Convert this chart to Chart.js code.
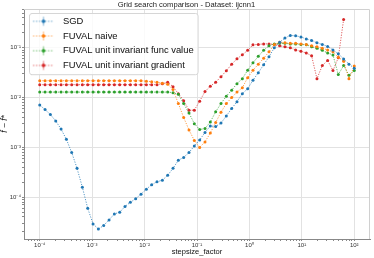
<!DOCTYPE html>
<html><head><meta charset="utf-8">
<script src="https://cdn.jsdelivr.net/npm/chart.js@4.4.1/dist/chart.umd.min.js"></script>
<style>html,body{margin:0;padding:0;background:#fff}canvas{display:block}</style>
</head><body>
<canvas id="c" width="374" height="258" style="width:374px;height:258px"></canvas>
<script>
const chartTitle = 'Grid search comparison - Dataset: ijcnn1';
const xLabel = 'stepsize_factor';
const yLabel = 'f \u2212 f*';
const seriesNames = ['SGD', 'FUVAL naive', 'FUVAL unit invariant func value', 'FUVAL unit invariant gradient'];
const seriesColors = ['#1f77b4', '#ff7f0e', '#2ca02c', '#d62728'];

// stepsize grid (x values)
const stepsizes = [1.000e-4,1.264e-4,1.597e-4,2.019e-4,2.551e-4,3.224e-4,4.075e-4,5.150e-4,6.508e-4,8.225e-4,
  1.040e-3,1.314e-3,1.661e-3,2.099e-3,2.653e-3,3.353e-3,4.237e-3,5.355e-3,6.767e-3,8.553e-3,
  1.081e-2,1.366e-2,1.727e-2,2.183e-2,2.758e-2,3.486e-2,4.406e-2,5.568e-2,7.037e-2,8.893e-2,
  0.1124,0.1421,0.1796,0.2270,0.2868,0.3625,0.4582,0.5791,0.7318,0.9249,
  1.169,1.477,1.867,2.360,2.982,3.769,4.764,6.021,7.609,9.618,
  12.15,15.36,19.42,24.54,31.02,39.20,49.54,62.61,79.13,100.0];

const sgd = [7.08e-3,5.75e-3,4.57e-3,3.39e-3,2.34e-3,1.45e-3,7.9e-4,3.8e-4,1.58e-4,6.0e-5,
  2.9e-5,2.3e-5,2.7e-5,3.5e-5,4.6e-5,5.0e-5,6.5e-5,7.9e-5,9.3e-5,1.15e-4,
  1.45e-4,1.78e-4,2.04e-4,2.19e-4,2.75e-4,3.8e-4,5.5e-4,6.3e-4,7.9e-4,1.07e-3,
  1.41e-3,2.0e-3,2.69e-3,2.63e-3,3.09e-3,4.27e-3,6.03e-3,8.3e-3,1.2e-2,1.51e-2,
  2.24e-2,3.16e-2,4.57e-2,6.6e-2,0.100,0.129,0.158,0.178,0.174,0.166,
  0.151,0.141,0.126,0.117,0.107,0.091,0.076,0.060,0.047,0.039];

const naive = [0.0219,0.0219,0.0219,0.0219,0.0219,0.0219,0.0219,0.0219,0.0219,0.0219,
  0.0219,0.0219,0.0219,0.0219,0.0219,0.0219,0.0219,0.0219,0.0219,0.0219,
  0.0214,0.0209,0.0204,0.0195,0.0186,0.0145,7.6e-3,3.98e-3,2.24e-3,1.38e-3,
  1.0e-3,1.29e-3,1.95e-3,3.16e-3,5.1e-3,7.6e-3,0.0100,0.0129,0.0158,0.0251,
  0.0355,0.0468,0.0617,0.0832,0.117,0.129,0.126,0.123,0.123,0.120,
  0.117,0.110,0.105,0.098,0.091,0.083,0.065,0.054,0.024,0.043];

const uiFunc = [0.0129,0.0129,0.0129,0.0129,0.0129,0.0129,0.0129,0.0129,0.0129,0.0129,
  0.0129,0.0129,0.0129,0.0129,0.0129,0.0129,0.0129,0.0129,0.0129,0.0129,
  0.0129,0.0129,0.0129,0.0129,0.0129,0.0126,0.0117,7.6e-3,4.9e-3,3.0e-3,
  2.29e-3,2.40e-3,3.24e-3,5.2e-3,7.6e-3,0.0107,0.0141,0.0191,0.0240,0.0355,
  0.0501,0.0676,0.0891,0.110,0.120,0.123,0.123,0.120,0.120,0.117,
  0.115,0.105,0.098,0.089,0.079,0.072,0.029,0.044,0.028,0.035];

const uiGrad = [0.0182,0.0182,0.0182,0.0182,0.0182,0.0182,0.0182,0.0182,0.0182,0.0182,
  0.0182,0.0182,0.0182,0.0182,0.0182,0.0182,0.0182,0.0182,0.0182,0.0182,
  0.0182,0.0182,0.0182,0.0191,0.0204,0.0166,0.0120,8.7e-3,5.6e-3,5.6e-3,
  8.5e-3,0.0132,0.0170,0.0204,0.0263,0.0347,0.0468,0.0603,0.0724,0.0891,
  0.115,0.117,0.120,0.120,0.117,0.110,0.105,0.100,0.091,0.085,
  0.079,0.069,0.024,0.044,0.056,0.035,0.063,0.37,null,null];

const FAM = "'Liberation Sans', Arial, sans-serif";
Chart.defaults.font.family = FAM;
Chart.defaults.color = '#222';

const SUP = {'-':'\u207B','0':'\u2070','1':'\u00B9','2':'\u00B2','3':'\u00B3','4':'\u2074','5':'\u2075','6':'\u2076','7':'\u2077','8':'\u2078','9':'\u2079'};
function isDecade(v){ const l = Math.log10(v); return Math.abs(l - Math.round(l)) < 1e-9; }
function decadeLabel(v){
  if (!isDecade(v)) return '';
  const e = Math.round(Math.log10(v));
  return '10' + String(e).split('').map(c => SUP[c]).join('');
}
function logTicks(scale){
  const t = [];
  const lo = Math.floor(Math.log10(scale.min)), hi = Math.ceil(Math.log10(scale.max));
  for (let e = lo; e <= hi; e++) for (let k = 1; k < 10; k++) {
    const v = k * Math.pow(10, e);
    if (v >= scale.min && v <= scale.max) t.push({value: v, major: k === 1});
  }
  scale.ticks = t;
}
function makeMarker(color){
  const c = document.createElement('canvas'); c.width = 30; c.height = 12;
  const g = c.getContext('2d');
  g.strokeStyle = color; g.lineWidth = 1;
  g.globalAlpha = 0.55; g.setLineDash([1.5, 1.5]);
  g.beginPath(); g.moveTo(4.7, 6); g.lineTo(25.7, 6); g.stroke();
  g.setLineDash([]); g.globalAlpha = 0.5;
  g.beginPath(); g.moveTo(15.2, 1.5); g.lineTo(15.2, 10.5); g.stroke();
  g.globalAlpha = 1; g.fillStyle = color;
  g.beginPath(); g.arc(15.2, 6, 1.8, 0, Math.PI * 2); g.fill();
  return c;
}
function hexA(hex, a){
  const n = parseInt(hex.slice(1), 16);
  return `rgba(${(n>>16)&255},${(n>>8)&255},${n&255},${a})`;
}

const seriesValues = [sgd, naive, uiFunc, uiGrad];
const datasets = seriesValues.map((vals, i) => ({
  label: seriesNames[i],
  data: stepsizes.map((x, j) => ({x: x, y: vals[j]})),
  borderColor: hexA(seriesColors[i], 0.75),
  backgroundColor: seriesColors[i],
  borderWidth: 1,
  borderDash: [1.2, 1.4],
  pointRadius: 1.5,
  pointBorderWidth: 0,
  pointBackgroundColor: seriesColors[i],
  spanGaps: false,
  tension: 0
}));

const legendBoxPlugin = {
  id: 'legendBox',
  beforeDraw(chart){
    const lg = chart.legend; const ca = chart.chartArea;
    lg.left = ca.left - 1; lg.top = ca.top + 2.3;
    lg.right = lg.left + 200; lg.bottom = lg.top + 200;
  },
  beforeDatasetsDraw(chart){
    const {ctx, chartArea: ca} = chart;
    ctx.save();
    ctx.strokeStyle = '#d0d0d0'; ctx.lineWidth = 1;
    ctx.beginPath();
    ctx.moveTo(ca.left, ca.top + 0.5); ctx.lineTo(ca.right - 0.5, ca.top + 0.5); ctx.lineTo(ca.right - 0.5, ca.bottom);
    ctx.stroke();
    ctx.restore();
  },
  afterDraw(chart){
    const {ctx} = chart; const lg = chart.legend;
    const x0 = lg.left + 6, y0 = lg.top + 1.7;
    ctx.save();
    ctx.font = "9.4px " + FAM;
    let w = 0; seriesNames.forEach(s => { w = Math.max(w, ctx.measureText(s).width); });
    const x1 = lg.left + 5.3 + 30 + 4.7 + w + 4.5;
    const y1 = y0 + 61.7;
    const r = 2.5;
    ctx.beginPath();
    ctx.moveTo(x0 + r, y0 + 0.5); ctx.lineTo(x1 - r, y0 + 0.5); ctx.arcTo(x1, y0 + 0.5, x1, y0 + r, r);
    ctx.lineTo(x1, y1 - r); ctx.arcTo(x1, y1, x1 - r, y1, r);
    ctx.lineTo(x0 + r, y1); ctx.arcTo(x0 + 0.5, y1, x0 + 0.5, y1 - r, r);
    ctx.lineTo(x0 + 0.5, y0 + r); ctx.arcTo(x0 + 0.5, y0 + 0.5, x0 + r, y0 + 0.5, r);
    ctx.closePath();
    ctx.fillStyle = 'rgba(255,255,255,0.82)'; ctx.fill();
    ctx.strokeStyle = '#d6d6d6'; ctx.lineWidth = 1; ctx.stroke();
    ctx.restore();
    lg.draw();
  }
};

const gridColor = c => (c.tick && isDecade(c.tick.value)) ? '#e2e2e2' : 'rgba(0,0,0,0)';

new Chart(document.getElementById('c'), {
  type: 'line',
  data: { datasets },
  plugins: [legendBoxPlugin],
  options: {
    responsive: false, animation: false,
    layout: { padding: {left: 0, right: 1, top: 0, bottom: 0} },
    plugins: {
      tooltip: {enabled: false},
      title: { display: true, text: chartTitle, color: '#222',
        font: {family: FAM, size: 7.6, weight: 'normal', lineHeight: 1}, padding: {top: 0.7, bottom: 0.7} },
      legend: {
        position: 'chartArea', align: 'start',
        labels: {
          usePointStyle: true, pointStyleWidth: 30, padding: 5.3, color: '#222',
          font: {family: FAM, size: 9.4},
          generateLabels(chart){
            return chart.data.datasets.map((d, i) => ({
              text: d.label, pointStyle: makeMarker(seriesColors[i]), datasetIndex: i,
              hidden: false, fontColor: '#222', lineWidth: 0, strokeStyle: 'rgba(0,0,0,0)', fillStyle: 'rgba(0,0,0,0)'
            }));
          }
        }
      }
    },
    scales: {
      x: {
        type: 'logarithmic', position: 'bottom', min: 5.012e-5, max: 199.5,
        afterBuildTicks: logTicks,
        afterFit(s){ s.height = 19; },
        ticks: { autoSkip: false, maxRotation: 0, minRotation: 0, padding: 1, color: '#333',
          font: {size: 6}, callback: v => decadeLabel(v) },
        grid: { color: gridColor, lineWidth: 1, tickLength: 2, tickColor: '#888' },
        border: { color: '#888', width: 1 },
        title: { display: true, text: xLabel, color: '#111', font: {size: 7.5}, padding: {top: 0, bottom: 1.5} }
      },
      y: {
        type: 'logarithmic', min: 1.445e-5, max: 0.603,
        afterBuildTicks: logTicks,
        afterFit(s){ s.width = 24; },
        ticks: { autoSkip: false, padding: 1, color: '#333', font: {size: 6}, callback: v => decadeLabel(v) },
        grid: { color: gridColor, lineWidth: 1, tickLength: 2, tickColor: '#888' },
        border: { color: '#888', width: 1 },
        title: { display: true, text: yLabel, color: '#111', font: {size: 8.5, style: 'italic'}, padding: {top: 0, bottom: 0} }
      }
    }
  }
});
</script>
</body></html>
